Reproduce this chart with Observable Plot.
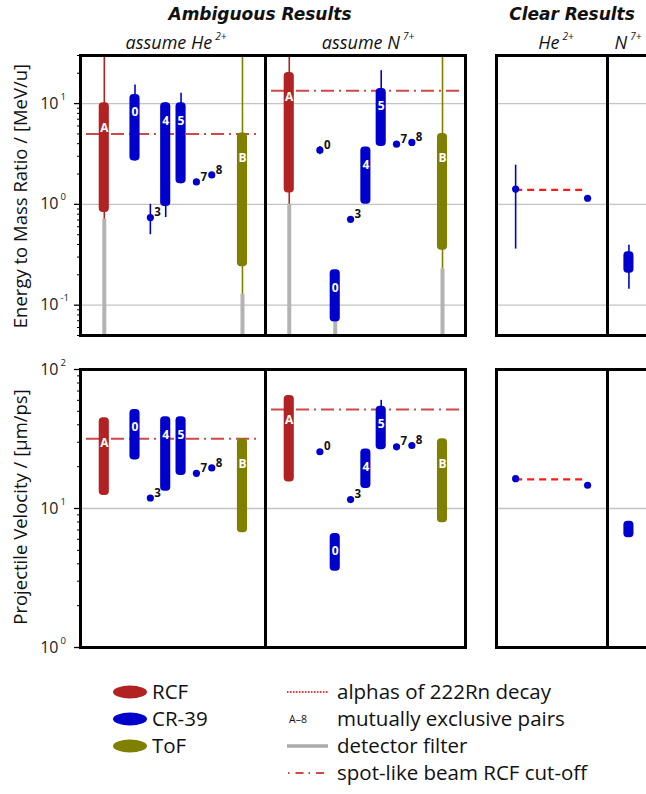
<!DOCTYPE html>
<html><head><meta charset="utf-8">
<script src="https://cdn.jsdelivr.net/npm/d3@7"></script>
<script src="https://cdn.jsdelivr.net/npm/@observablehq/plot@0.6"></script>
<style>
body{margin:0;background:#fff;}
#root{position:relative;width:646px;height:794px;overflow:hidden;font-family:"Open Sans",sans-serif;color:#111;background:#fff;}
.abs{position:absolute;white-space:nowrap;line-height:1;}
.ttl{font-family:"DejaVu Sans",sans-serif;font-weight:bold;font-style:italic;font-size:17px;transform:translateX(-50%);}
.sub{font-style:italic;font-size:18px;transform:translateX(-50%);}
.sub sup{font-size:10px;vertical-align:9px;margin-left:3px;}
.ylab{font-size:18.5px;transform:translate(-50%,-50%) rotate(-90deg);}
.holder{position:absolute;}
.holder svg{max-width:none !important;}
</style></head><body><div id="root"></div>
<script>
// ---------- DATA ----------
const detColor = {"RCF": "#b22222", "CR-39": "#0000cd", "ToF": "#808000"};

// Ambiguous results, assume He2+
const heKeys  = ["A","0","3","4","5","7","8","B"];
const heDet   = ["RCF","CR-39","CR-39","CR-39","CR-39","CR-39","CR-39","ToF"];
const heSlot  = [0,2,3,4,5,6,7,9];
// energy-to-mass ratio [MeV/u]
const heE_lo  = [0.83, 2.7, null, 0.95, 1.6, null, null, 0.24];
const heE_hi  = [10.2, 12.3, null, 10.2, 10.2, null, null, 5.1];
const heE_pt  = [null, null, 0.74, null, null, 1.67, 1.96, null];
const heE_wlo = [0.71, null, 0.5, 0.74, null, null, null, 0.128];
const heE_whi = [1000, 15.3, 1.0, null, 12.7, null, null, 1000];
const heE_flt = [0.71, null, null, null, null, null, null, 0.128];
const heE_cut = 5.0;
// projectile velocity [µm/ps]
const heV_lo  = [12.4, 22.3, null, 13.3, 17.3, null, null, 6.7];
const heV_hi  = [44.9, 51.5, null, 45.7, 45.7, null, null, 31.7];
const heV_pt  = [null, null, 11.9, null, null, 17.9, 19.6, null];
const heV_cut = 31.7;

// Ambiguous results, assume N7+
const nKeys   = ["A","0","0","3","4","5","7","8","B"];
const nDet    = ["RCF","CR-39","CR-39","CR-39","CR-39","CR-39","CR-39","CR-39","ToF"];
const nSlot   = [0,2,3,4,5,6,7,8,10];
const nE_lo   = [1.3, null, 0.068, null, 1.0, 3.75, null, null, 0.35];
const nE_hi   = [20.4, null, 0.224, null, 3.7, 14.1, null, null, 5.06];
const nE_pt   = [null, 3.45, null, 0.71, null, null, 3.96, 4.12, null];
const nE_wlo  = [1.0, 3.1, null, 0.69, null, null, null, null, 0.228];
const nE_whi  = [1000, 3.75, null, 0.74, null, 21.2, null, null, 1000];
const nE_flt  = [1.0, null, 0.068, null, null, null, null, null, 0.228];
const nE_cut  = 13.4;
const nV_lo   = [15.5, null, 3.54, null, 13.9, 26.5, null, null, 7.9];
const nV_hi   = [65, null, 6.6, null, 26.8, 54.5, null, null, 31.7];
const nV_pt   = [null, 25.6, null, 11.6, null, null, 27.8, 28.4, null];
const nV_whi  = [null, null, null, null, null, 60, null, null, null];
const nV_cut  = 51.5;

// Clear results, He2+
const cHeDet   = ["CR-39","CR-39"];
const cHeSlot  = [0, 4.7];
const cHeE_pt  = [1.42, 1.15];
const cHeE_wlo = [0.36, null];
const cHeE_whi = [2.45, null];
const cHeE_rn  = 1.39;   // alphas of 222Rn decay
const cHeV_pt  = [16.4, 14.7];
const cHeV_rn  = 16.2;

// Clear results, N7+
const cNDet   = ["CR-39"];
const cNSlot  = [0];
const cNE_lo  = [0.207];
const cNE_hi  = [0.338];
const cNE_wlo = [0.144];
const cNE_whi = [0.394];
const cNV_lo  = [6.15];
const cNV_hi  = [8.1];

const eTicks = [0.1, 1, 10];
const vTicks = [1, 10, 100];

// ---------- HELPERS ----------
const nn = (a, i) => (a && a[i] != null) ? a[i] : null;
function rows(keys, det, slot, lo, hi, pt, wlo, whi, flt) {
  return det.map((d, i) => ({
    key: keys ? keys[i] : "", det: d, slot: slot[i],
    lo: nn(lo, i), hi: nn(hi, i), pt: nn(pt, i),
    wlo: nn(wlo, i), whi: nn(whi, i), flt: nn(flt, i)
  }));
}
function minorTicks(domain) {
  const out = [];
  for (let e = Math.floor(Math.log10(domain[0])); e <= Math.ceil(Math.log10(domain[1])); e++)
    for (let m = 2; m <= 9; m++) { const v = m * Math.pow(10, e); if (v >= domain[0] && v <= domain[1]) out.push(v); }
  return out;
}

const HW = 0.33; // half bar width in slot units
function panel(o) {
  const R = o.rows;
  const col = d => detColor[d.det];
  const marks = [];
  marks.push(Plot.gridY(o.grid, {stroke: "#c4c4c4", strokeOpacity: 1, strokeWidth: 1.3}));
  if (o.cut != null) marks.push(Plot.ruleY([o.cut], {stroke: "#d04848", strokeWidth: 2, strokeDasharray: "13,5,2,5", insetLeft: 6, insetRight: 6}));
  if (o.rn) marks.push(Plot.ruleY([o.rn], {y: "v", x1: "a", x2: "b", stroke: "#ff1a1a", strokeWidth: 2.2, strokeDasharray: "7,5"}));
  marks.push(Plot.ruleX(R.filter(d => d.flt != null), {x: "slot", y1: "flt", y2: () => 1e-4, stroke: "#b3b3b3", strokeWidth: 4, clip: true}));
  marks.push(Plot.ruleX(R.filter(d => d.wlo != null || d.whi != null), {
    x: "slot", y1: d => d.wlo ?? d.lo ?? d.pt, y2: d => d.whi ?? d.hi ?? d.pt,
    stroke: col, strokeWidth: 1.6, clip: true}));
  marks.push(Plot.rect(R.filter(d => d.lo != null), {x1: d => d.slot - HW, x2: d => d.slot + HW, y1: "lo", y2: "hi", fill: col, rx: 4}));
  marks.push(Plot.dot(R.filter(d => d.pt != null), {x: "slot", y: "pt", r: 3.6, fill: col, stroke: null}));
  const barLab = R.filter(d => d.lo != null && d.key);
  marks.push(Plot.text(barLab.filter(d => d.det !== "CR-39"), {x: "slot", y: "hi", text: "key", dy: 25, fill: "white", fontWeight: "bold", fontSize: 12}));
  marks.push(Plot.text(barLab.filter(d => d.det === "CR-39"), {x: "slot", y: "hi", text: "key", dy: 18, fill: "white", fontWeight: "bold", fontSize: 12}));
  marks.push(Plot.text(R.filter(d => d.pt != null && d.key), {x: "slot", y: "pt", text: "key", dx: 4, dy: -5, textAnchor: "start", fill: "#111", fontWeight: "bold", fontSize: 11.5}));
  if (o.axis) {
    marks.push(Plot.axisY(minorTicks(o.domain), {tickSize: 3, tickFormat: () => "", label: null, stroke: "#000"}));
    marks.push(Plot.axisY(o.ticks, {tickSize: 6, tickFormat: () => "", label: null, stroke: "#000", strokeWidth: 1.3}));
    marks.push(Plot.text(o.ticks, {y: d => d, text: () => "10", frameAnchor: "left", dx: -22, textAnchor: "end", fontSize: 16, fill: "#222"}));
    marks.push(Plot.text(o.ticks, {y: d => d, text: d => String(Math.round(Math.log10(d))), frameAnchor: "left", dx: -20, dy: -7, textAnchor: "start", fontSize: 9.5, fill: "#222"}));
  }
  marks.push(Plot.frame({stroke: "#000", strokeWidth: 3}));
  return Plot.plot({
    width: o.width, height: o.height,
    marginLeft: o.axis ? 80 : 0, marginRight: 0, marginTop: o.mt, marginBottom: 5,
    style: "overflow:visible;background:none;max-width:none;font-family:'Open Sans',sans-serif;",
    x: {type: "linear", domain: o.xd, axis: null},
    y: {type: "log", domain: o.domain, axis: o.axis ? undefined : null},
    color: {type: "identity"},
    marks
  });
}

// ---------- LAYOUT ----------
const root = document.getElementById("root");
function place(node, left, top, w) {
  const h = document.createElement("div"); h.className = "holder";
  h.style.left = left + "px"; h.style.top = top + "px"; h.style.width = w + "px";
  h.appendChild(node); root.appendChild(h);
}
function html(s) { root.insertAdjacentHTML("beforeend", s); }

const eDom = [0.05, 30], vDom = [1, 100];
const topRow = {height: 340, mt: 55, domain: eDom, ticks: eTicks, grid: eTicks};
const botRow = {height: 312, mt: 29, domain: vDom, ticks: vTicks, grid: [10]};

const heE = rows(heKeys, heDet, heSlot, heE_lo, heE_hi, heE_pt, heE_wlo, heE_whi, heE_flt);
const heV = rows(heKeys, heDet, heSlot, heV_lo, heV_hi, heV_pt);
const nE  = rows(nKeys, nDet, nSlot, nE_lo, nE_hi, nE_pt, nE_wlo, nE_whi, nE_flt);
const nV  = rows(nKeys, nDet, nSlot, nV_lo, nV_hi, nV_pt, null, nV_whi);
const cHeE = rows(null, cHeDet, cHeSlot, null, null, cHeE_pt, cHeE_wlo, cHeE_whi);
const cHeV = rows(null, cHeDet, cHeSlot, null, null, cHeV_pt);
const cNE  = rows(null, cNDet, cNSlot, cNE_lo, cNE_hi, null, cNE_wlo, cNE_whi);
const cNV  = rows(null, cNDet, cNSlot, cNV_lo, cNV_hi);

[[topRow, 0, heE, nE, cHeE, cNE, heE_cut, nE_cut, cHeE_rn],
 [botRow, 340, heV, nV, cHeV, cNV, heV_cut, nV_cut, cHeV_rn]].forEach(([row, top, a, b, c, d, cutA, cutB, rn]) => {
  place(panel({...row, rows: a, axis: true, width: 265, xd: [-1.55, 10.5], cut: cutA}), 0, top, 265);
  place(panel({...row, rows: b, width: 200, xd: [-1.55, 11.5], cut: cutB}), 265, top, 200);
  place(panel({...row, rows: c, width: 111, xd: [-1.25, 6.0], rn: {v: rn, a: cHeSlot[0], b: cHeSlot[1]}}), 496, top, 111);
  place(panel({...row, rows: d, width: 111, xd: [-1.4, 5.85]}), 607, top, 111);
});

// ---------- TEXT ----------
html(`<div class="abs ttl" style="left:260px;top:6px">Ambiguous Results</div>`);
html(`<div class="abs ttl" style="left:572px;top:6px">Clear Results</div>`);
html(`<div class="abs sub" style="left:176px;top:31px">assume He<sup>2+</sup></div>`);
html(`<div class="abs sub" style="left:368px;top:31px">assume N<sup>7+</sup></div>`);
html(`<div class="abs sub" style="left:556px;top:31px">He<sup>2+</sup></div>`);
html(`<div class="abs sub" style="left:628px;top:31px">N<sup>7+</sup></div>`);
html(`<div class="abs ylab" style="left:20px;top:196px">Energy to Mass Ratio / [MeV/u]</div>`);
html(`<div class="abs ylab" style="left:20px;top:507px">Projectile Velocity / [μm/ps]</div>`);

// ---------- LEGEND ----------
const legDet = ["RCF", "CR-39", "ToF"];
const legLines = ["alphas of 222Rn decay", "mutually exclusive pairs", "detector filter", "spot-like beam RCF cut-off"];
let lg = `<svg class="holder" style="left:0;top:660px" width="646" height="134" font-family="Open Sans, sans-serif">`;
legDet.forEach((k, i) => {
  const y = 32 + i * 27;
  lg += `<ellipse cx="130" cy="${y}" rx="17" ry="6.5" fill="${detColor[k]}"/>`;
  lg += `<text x="152" y="${y + 7}" font-size="20.5" fill="#111">${k}</text>`;
});
legLines.forEach((k, i) => {
  const y = 32 + i * 27;
  lg += `<text x="337" y="${y + 7}" font-size="20.5" fill="#111">${k}</text>`;
});
lg += `<line x1="287" x2="328" y1="32" y2="32" stroke="#ff3030" stroke-width="1.8" stroke-dasharray="1.5,1.5"/>`;
lg += `<text x="289" y="63" font-size="10.5" fill="#111">A–8</text>`;
lg += `<line x1="287" x2="328" y1="86" y2="86" stroke="#aaa" stroke-width="3.5"/>`;
lg += `<line x1="288" x2="328" y1="113" y2="113" stroke="#d04848" stroke-width="1.8" stroke-dasharray="1.5,6,8,5"/>`;
lg += `</svg>`;
html(lg);
</script></body></html>
